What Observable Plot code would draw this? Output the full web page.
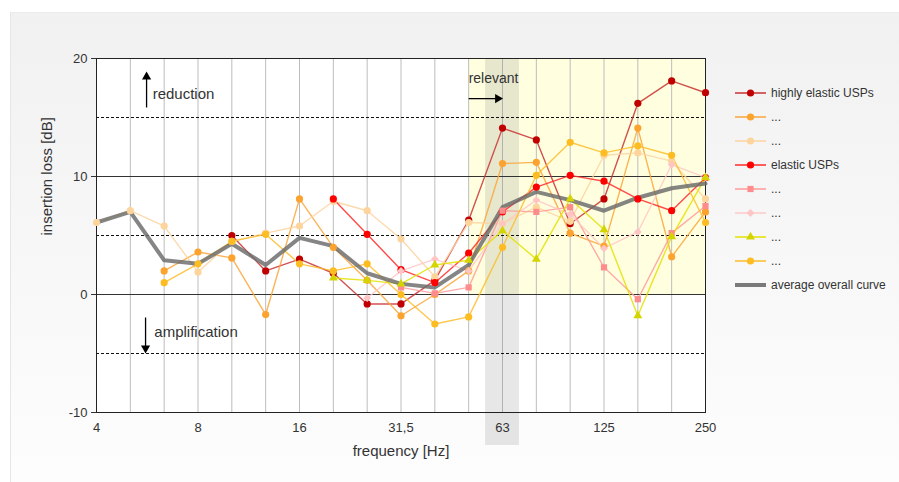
<!DOCTYPE html>
<html><head><meta charset="utf-8">
<script src="https://cdn.jsdelivr.net/npm/d3@7"></script>
<script src="https://cdn.jsdelivr.net/npm/@observablehq/plot@0.6"></script>
<style>
body{margin:0;width:899px;height:482px;overflow:hidden;background:#fff;font-family:"Liberation Sans",Arial,sans-serif;}
#panel{position:absolute;left:10px;top:12px;width:889px;height:470px;background:linear-gradient(#f1f1f1,#fdfdfd);border-left:1px solid #e6e6e6;border-top:1px solid #ebebeb}
#chart{position:absolute;left:0;top:0}
#legend{position:absolute;left:735px;top:81px;font-size:12px;color:#333}
.item{height:24px;display:flex;align-items:center;white-space:nowrap}
.item svg{margin-right:4px}
</style></head><body>
<div id="panel"></div><div id="chart"></div><div id="legend"></div>
<script>
// third-octave bands (Hz)
const bands = ["4","5","6,3","8","10","12,5","16","20","25","31,5","40","50","63","80","100","125","160","200","250"];
const tickIdx = [0,3,6,9,12,15,18];
const yTicks = [-10,0,10,20];

// insertion loss values [dB] per band (null = no value)
const highlyElastic = [null,null,null,null,5.0,2.0,3.0,1.8,-0.8,-0.8,1.2,6.3,14.1,13.1,6.0,8.1,16.2,18.1,17.1];
const seriesOrange  = [null,null,2.0,3.6,3.1,-1.7,8.1,4.0,1.2,-1.8,0.0,2.0,11.1,11.2,5.2,4.1,14.1,3.2,7.0];
const seriesPeach   = [6.1,7.1,5.8,1.9,4.5,5.2,5.8,7.9,7.1,4.7,1.5,6.1,6.0,7.4,6.2,11.8,12.0,11.3,8.1];
const elastic       = [null,null,null,null,null,null,null,8.1,5.1,2.1,1.0,3.5,7.0,9.1,10.1,9.6,8.1,7.1,9.9];
const seriesSalmon  = [null,null,null,null,null,null,null,null,null,0.6,0.1,0.6,7.1,7.0,7.4,2.3,-0.4,5.2,7.5];
const seriesPink    = [null,null,null,null,null,null,null,null,-0.3,2.0,3.0,2.0,6.0,8.0,6.8,3.9,5.3,11.0,9.9];
const seriesYellow  = [null,null,null,null,null,null,null,1.4,1.2,0.9,2.5,2.9,5.4,3.0,8.1,5.5,-1.8,4.9,9.9];
const seriesGold    = [null,null,1.0,2.6,4.5,5.1,2.6,2.0,2.6,0.0,-2.5,-1.9,4.0,10.1,12.9,12.0,12.6,11.8,6.1];
const averageCurve  = [6.1,7.0,2.9,2.6,4.3,2.5,4.8,4.1,1.8,0.9,0.6,2.5,7.4,8.7,8.0,7.1,8.2,9.0,9.4];

const seriesNames = ["highly elastic USPs","...","...","elastic USPs","...","...","...","..."];
const averageName = "average overall curve";
const seriesValues = [highlyElastic, seriesOrange, seriesPeach, elastic, seriesSalmon, seriesPink, seriesYellow, seriesGold];
const lineColors   = ["#c83232","#fba63a","#fdd3a0","#ff2a2a","#ff9a9a","#ffc8c8","#e2e200","#fdbd2a"];
const markColors   = ["#c00000","#fba32e","#fdd49c","#ff0000","#ff8c8c","#ffc4c4","#d4d400","#fdbd22"];
const symbols      = ["circle","circle","circle","circle","square","diamond2","triangle","circle"];
const symbolR      = [3.6,3.6,3.6,3.6,3.5,3.5,3.3,3.6];

const toRows = vals => vals.map((v,i)=>({i, v})).filter(d => d.v != null);

const lineMarks = seriesValues.map((vals,s) =>
  Plot.line(toRows(vals), {x:"i", y:"v", stroke: lineColors[s], strokeWidth: 1.4, strokeOpacity: 0.85}));
const dotMarks = seriesValues.map((vals,s) =>
  Plot.dot(toRows(vals), {x:"i", y:"v", fill: markColors[s], r: symbolR[s], symbol: symbols[s]}));

const chart = Plot.plot({
  width: 899, height: 482,
  marginLeft: 96, marginRight: 194, marginTop: 58, marginBottom: 70,
  x: {type: "linear", domain: [0, 18]},
  y: {domain: [-10, 20]},
  style: {background: "transparent", fontFamily: "Liberation Sans, Arial, sans-serif", color: "#333", overflow: "visible"},
  marks: [
    Plot.frame({fill: "#fff", stroke: null}),
    Plot.rect([0], {x1: 11, x2: 18, y1: 0, y2: 20, fill: "#ffffe0"}),
    Plot.ruleX(d3.range(bands.length), {stroke: "#bdbdbd", strokeWidth: 1}),
    Plot.rect([0], {x1: 11.5, x2: 12.5, y1: -10, y2: 20, fill: "#808080", fillOpacity: 0.19, insetBottom: -33}),
    Plot.ruleY([0, 10], {stroke: "#333", strokeWidth: 1}),
    Plot.ruleY([-5, 5, 15], {stroke: "#111", strokeWidth: 1, strokeDasharray: "3,2"}),
    Plot.frame({stroke: "#222"}),
    Plot.axisY({ticks: yTicks, tickFormat: d => String(d), tickSize: 5, tickPadding: 4, label: null, fontSize: 13}),
    Plot.axisX({ticks: tickIdx, tickFormat: i => bands[i], tickSize: 0, tickPadding: 10, label: null, fontSize: 13}),
    Plot.text(["frequency [Hz]"], {frameAnchor: "bottom", dy: 43, fontSize: 15, fill: "#333"}),
    Plot.text(["insertion loss [dB]"], {frameAnchor: "left", dx: -49, rotate: -90, fontSize: 15, fill: "#333"}),
    // annotations
    Plot.text(["reduction"], {x: 1.66, y: 17.0, textAnchor: "start", fontSize: 15, fill: "#333"}),
    Plot.link([0], {x1: 1.48, x2: 1.48, y1: 15.85, y2: 18.3, stroke: "#000", strokeWidth: 1.3}),
    Plot.dot([0], {x: 1.48, y: 18.45, symbol: "triangle", r: 3.4, fill: "#000"}),
    Plot.text(["amplification"], {x: 1.71, y: -3.2, textAnchor: "start", fontSize: 15, fill: "#333"}),
    Plot.link([0], {x1: 1.45, x2: 1.45, y1: -1.95, y2: -4.4, stroke: "#000", strokeWidth: 1.3}),
    Plot.dot([0], {x: 1.45, y: -4.55, symbol: "triangle", rotate: 180, r: 3.4, fill: "#000"}),
    Plot.text(["relevant"], {x: 11, y: 18.3, textAnchor: "start", fontSize: 14, fill: "#333"}),
    Plot.link([0], {x1: 11, x2: 11.82, y1: 16.6, y2: 16.6, stroke: "#000", strokeWidth: 1.3}),
    Plot.dot([0], {x: 11.86, y: 16.6, symbol: "triangle", rotate: 90, r: 3.4, fill: "#000"}),
    // data
    ...lineMarks,
    Plot.line(toRows(averageCurve), {x: "i", y: "v", stroke: "#6a6a6a", strokeWidth: 4, strokeOpacity: 0.82}),
    ...dotMarks
  ]
});
document.getElementById("chart").appendChild(chart);

// legend
const legend = document.getElementById("legend");
const ns = "http://www.w3.org/2000/svg";
function addItem(name, lineColor, markColor, sym, r, width) {
  const div = document.createElement("div");
  div.className = "item";
  const svg = document.createElementNS(ns, "svg");
  svg.setAttribute("width", 32); svg.setAttribute("height", 12);
  const line = document.createElementNS(ns, "line");
  line.setAttribute("x1", 0); line.setAttribute("x2", 31);
  line.setAttribute("y1", 6); line.setAttribute("y2", 6);
  line.setAttribute("stroke", lineColor); line.setAttribute("stroke-width", width);
  svg.appendChild(line);
  if (sym) {
    const path = document.createElementNS(ns, "path");
    const symMap = {circle: d3.symbolCircle, square: d3.symbolSquare, diamond2: d3.symbolDiamond2, triangle: d3.symbolTriangle};
    path.setAttribute("d", d3.symbol(symMap[sym], Math.PI * r * r)());
    path.setAttribute("transform", "translate(15.5,6)");
    path.setAttribute("fill", markColor);
    svg.appendChild(path);
  }
  div.appendChild(svg);
  const span = document.createElement("span");
  span.textContent = name;
  div.appendChild(span);
  legend.appendChild(div);
}
seriesNames.forEach((n, s) => addItem(n, lineColors[s], markColors[s], symbols[s], symbolR[s], 1.5));
addItem(averageName, "#7a7a7a", null, null, 0, 4);
</script>
</body></html>
